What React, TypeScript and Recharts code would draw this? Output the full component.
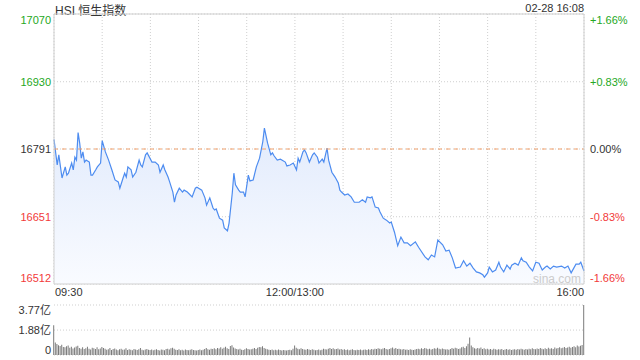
import {
  ComposedChart,
  Area,
  Bar,
  XAxis,
  YAxis,
  CartesianGrid,
  ReferenceLine,
} from "recharts";

// HSI intraday, 28 Feb (minutes from 09:30, lunch break removed)
const PREV_CLOSE = 16791;

const minutes = [
  0, 2, 3, 5, 7, 8, 9, 11, 12, 13, 14, 15, 16, 17, 18, 19, 20, 22, 23, 24,
  26, 27, 29, 30, 32, 34, 36, 38, 40, 41, 43, 44, 45, 46, 48, 49, 51, 53, 54, 55,
  57, 58, 61, 63, 65, 66, 68, 69, 71, 72, 74, 75, 76, 78, 80, 81, 83, 86, 88, 89,
  92, 94, 95, 97, 99, 100, 101, 103, 105, 106, 108, 109, 111, 112, 113, 115, 116, 118, 119, 121,
  122, 124, 126, 128, 130, 131, 133, 135, 136, 137, 139, 141, 144, 145, 147, 149, 151, 152, 153, 155,
  156, 157, 159, 161, 162, 164, 165, 167, 168, 170, 171, 173, 175, 177, 178, 179, 181, 183, 185, 187,
  190, 192, 194, 195, 197, 198, 200, 202, 203, 205, 207, 209, 210, 212, 214, 216, 218, 220, 222, 225,
  227, 231, 233, 235, 237, 239, 242, 244, 246, 248, 250, 253, 255, 257, 259, 261, 263, 265, 267, 268,
  270, 271, 273, 275, 277, 278, 280, 282, 284, 285, 287, 289, 291, 292, 294, 296, 298, 300, 302, 304,
  306, 307, 309, 311, 313, 316, 318, 320, 322, 325, 327, 328, 330,
];

const prices = [
  16811, 16758, 16779, 16731, 16754, 16737, 16741, 16762, 16748, 16774,
  16768, 16825, 16803, 16772, 16785, 16764, 16768, 16764, 16737, 16737,
  16748, 16754, 16762, 16808, 16785, 16768, 16748, 16727, 16723, 16710,
  16731, 16741, 16733, 16754, 16748, 16733, 16743, 16768, 16758, 16754,
  16779, 16783, 16764, 16764, 16758, 16743, 16758, 16748, 16733, 16723,
  16702, 16681, 16696, 16710, 16702, 16706, 16702, 16692, 16710, 16712,
  16706, 16690, 16675, 16690, 16669, 16665, 16667, 16648, 16644, 16628,
  16622, 16638, 16700, 16741, 16717, 16706, 16702, 16702, 16692, 16737,
  16725, 16727, 16754, 16772, 16806, 16834, 16803, 16779, 16783, 16777,
  16768, 16770, 16764, 16756, 16758, 16762, 16748, 16772, 16764, 16785,
  16789, 16783, 16764, 16779, 16783, 16774, 16762, 16770, 16764, 16793,
  16768, 16743, 16733, 16721, 16706, 16702, 16696, 16698, 16692, 16681,
  16681, 16686, 16681, 16692, 16690, 16692, 16671, 16669, 16661, 16648,
  16644, 16638, 16640, 16619, 16591, 16609, 16597, 16597, 16591, 16599,
  16588, 16568, 16562, 16572, 16568, 16603, 16593, 16580, 16582, 16566,
  16545, 16547, 16560, 16549, 16555, 16545, 16537, 16535, 16531, 16526,
  16535, 16547, 16537, 16541, 16557, 16547, 16537, 16551, 16543, 16551,
  16555, 16551, 16566, 16560, 16557, 16547, 16539, 16557, 16555, 16541,
  16547, 16549, 16543, 16549, 16547, 16549, 16545, 16549, 16535, 16553,
  16553, 16557, 16539,
];

// per-minute volume in 亿, index = minute from 09:30 (last one = closing auction)
const volumes = [
  2.25, 0.95, 0.82, 0.74, 0.68, 0.77, 0.61, 0.58, 0.66, 0.72, 0.55, 0.62, 0.49, 0.57, 0.64, 0.70, 0.52, 0.48, 0.59, 0.45, 0.51, 0.63, 0.47, 0.42, 0.55, 0.50, 0.46, 0.58, 0.44, 0.49,
  0.61, 0.53, 0.47, 0.40, 0.44, 0.52, 0.38, 0.45, 0.49, 0.41, 0.36, 0.43, 0.47, 0.39, 0.42, 0.50, 0.37, 0.44, 0.40, 0.35, 0.46, 0.41, 0.38, 0.43, 0.52, 0.39, 0.36, 0.42, 0.45, 0.40,
  0.38, 0.42, 0.35, 0.40, 0.44, 0.37, 0.33, 0.41, 0.39, 0.36, 0.45, 0.48, 0.42, 0.51, 0.55, 0.47, 0.40, 0.38, 0.43, 0.36, 0.39, 0.34, 0.41, 0.37, 0.35, 0.40, 0.44, 0.38, 0.36, 0.33,
  0.37, 0.41, 0.35, 0.39, 0.46, 0.52, 0.43, 0.40, 0.48, 0.45, 0.50, 0.44, 0.53, 0.49, 0.58, 0.47, 0.55, 0.62, 0.51, 0.46, 0.68, 0.74, 0.57, 0.49, 0.45, 0.42, 0.47, 0.40, 0.38, 0.44,
  0.50, 0.46, 0.41, 0.44, 0.48, 0.52, 0.45, 0.55, 0.61, 0.58, 0.66, 0.53, 0.47, 0.43, 0.40, 0.38, 0.42, 0.36, 0.39, 0.35, 0.41, 0.37, 0.34, 0.38, 0.36, 0.33, 0.37, 0.40, 0.35, 0.48,
  0.72, 0.55, 0.48, 0.44, 0.51, 0.46, 0.42, 0.39, 0.45, 0.41, 0.37, 0.43, 0.40, 0.36, 0.38, 0.42, 0.35, 0.39, 0.47, 0.44, 0.41, 0.48, 0.52, 0.45, 0.50, 0.43, 0.46, 0.49, 0.42, 0.45,
  0.40, 0.43, 0.38, 0.41, 0.36, 0.39, 0.44, 0.37, 0.35, 0.40, 0.38, 0.42, 0.36, 0.39, 0.41, 0.37, 0.43, 0.40, 0.46, 0.42, 0.48, 0.45, 0.51, 0.47, 0.44, 0.49, 0.53, 0.46, 0.42, 0.45,
  0.50, 0.56, 0.48, 0.52, 0.45, 0.47, 0.43, 0.41, 0.46, 0.39, 0.42, 0.38, 0.44, 0.40, 0.37, 0.41, 0.45, 0.48, 0.43, 0.50, 0.46, 0.53, 0.49, 0.44, 0.47, 0.42, 0.45, 0.51, 0.48, 0.55,
  0.47, 0.43, 0.49, 0.45, 0.41, 0.44, 0.40, 0.46, 0.52, 0.48, 0.55, 0.50, 0.45, 0.49, 0.58, 0.62, 0.53, 0.66, 0.85, 1.32, 0.72, 0.58, 0.51, 0.47, 0.53, 0.49, 0.56, 0.46, 0.50, 0.44,
  0.48, 0.42, 0.45, 0.40, 0.47, 0.43, 0.39, 0.44, 0.41, 0.46, 0.38, 0.42, 0.45, 0.40, 0.43, 0.37, 0.41, 0.44, 0.39, 0.46, 0.42, 0.48, 0.44, 0.40, 0.45, 0.41, 0.47, 0.43, 0.50, 0.46,
  0.44, 0.49, 0.45, 0.52, 0.47, 0.43, 0.50, 0.46, 0.54, 0.48, 0.51, 0.45, 0.56, 0.49, 0.53, 0.58, 0.50, 0.55, 0.61, 0.52, 0.57, 0.63, 0.55, 0.60, 0.66, 0.58, 0.71, 0.64, 0.69, 0.75,
  3.77,
];

const priceTicks = [16512, 16651, 16791, 16930, 17070];
const timeTicks = [0, 30, 60, 90, 120, 150, 180, 210, 240, 270, 300, 330];
const timeLabels: Record<number, string> = { 0: "09:30", 150: "12:00/13:00", 330: "16:00" };
const volTicks = [0, 1.88, 3.77];
const volLabels: Record<number, string> = { 0: "0", 1.88: "1.88亿", 3.77: "3.77亿" };

const GREEN = "#24a824";
const RED = "#f23a3a";
const TEXT = "#333";
const BORDER = "#cfcfcf";
const LINE = "#4d8cf0";
const FONT = '"Liberation Sans", Arial, "Noto Sans CJK SC", sans-serif';

const priceData = minutes.map((t, i) => ({ t, p: prices[i] }));
const volData = volumes.map((v, i) => ({ t: i, v }));

function colorFor(v: number) {
  if (v > PREV_CLOSE) return GREEN;
  if (v < PREV_CLOSE) return RED;
  return TEXT;
}

function edgeShift(v: number) {
  if (v === priceTicks[priceTicks.length - 1]) return 6;
  if (v === priceTicks[0]) return -6;
  return 0;
}

function LeftTick({ y, payload }: any) {
  const v = payload.value;
  return (
    <text x={51} y={y + edgeShift(v)} dy="0.35em" textAnchor="end" fill={colorFor(v)} fontSize={11}>
      {v}
    </text>
  );
}

function RightTick({ y, payload }: any) {
  const v = payload.value;
  const pct = ((v - PREV_CLOSE) / PREV_CLOSE) * 100;
  const label = (pct > 0 ? "+" : "") + pct.toFixed(2) + "%";
  return (
    <text x={590} y={y + edgeShift(v)} dy="0.35em" textAnchor="start" fill={colorFor(v)} fontSize={11}>
      {label}
    </text>
  );
}

function TimeTick({ x, payload }: any) {
  const label = timeLabels[payload.value];
  if (!label) return null;
  const anchor = payload.value === 0 ? "start" : payload.value === 330 ? "end" : "middle";
  const dx = payload.value === 0 ? 1 : 0;
  return (
    <text x={x + dx} y={292} dy="0.35em" textAnchor={anchor} fill={TEXT} fontSize={11}>
      {label}
    </text>
  );
}

function VolTick({ y, payload }: any) {
  const v = payload.value;
  const shift = v === 3.77 ? 5 : v === 0 ? -5 : 0;
  return (
    <text x={51} y={y + shift} dy="0.35em" textAnchor="end" fill={TEXT} fontSize={11}>
      {volLabels[v]}
    </text>
  );
}

export default function App() {
  return (
    <div
      style={{
        position: "absolute",
        left: 0,
        top: 0,
        width: 640,
        height: 360,
        background: "#fff",
        fontFamily: FONT,
        overflow: "hidden",
      }}
    >
      <div style={{ position: "absolute", left: 55, top: 1, fontSize: 12, color: TEXT }}>HSI 恒生指数</div>
      <div style={{ position: "absolute", right: 56, top: 2, fontSize: 11, color: TEXT }}>02-28 16:08</div>

      <div style={{ position: "absolute", left: 0, top: 0 }}>
        <ComposedChart width={640} height={300} data={priceData} margin={{ top: 14, right: 0, bottom: 0, left: 0 }}>
          <defs>
            <linearGradient id="fillGrad" x1="0" y1="0" x2="0" y2="1">
              <stop offset="0%" stopColor="#e2ebfc" />
              <stop offset="100%" stopColor="#f9fbff" />
            </linearGradient>
          </defs>
          <CartesianGrid yAxisId="left" stroke={BORDER} strokeDasharray="1 2" />
          <XAxis
            dataKey="t"
            type="number"
            domain={[0, 330]}
            ticks={timeTicks}
            interval={0}
            height={16}
            tickLine={false}
            axisLine={{ stroke: BORDER }}
            tick={<TimeTick />}
          />
          <YAxis
            yAxisId="left"
            type="number"
            domain={[16512, 17070]}
            ticks={priceTicks}
            interval={0}
            width={54}
            tickLine={false}
            axisLine={{ stroke: BORDER }}
            tick={<LeftTick />}
            allowDataOverflow
          />
          <YAxis
            yAxisId="right"
            orientation="right"
            type="number"
            domain={[16512, 17070]}
            ticks={priceTicks}
            interval={0}
            width={56}
            tickLine={false}
            axisLine={{ stroke: BORDER }}
            tick={<RightTick />}
            allowDataOverflow
          />
          <ReferenceLine yAxisId="left" y={17070} stroke={BORDER} />
          <Area
            yAxisId="left"
            type="linear"
            dataKey="p"
            stroke={LINE}
            strokeWidth={1.2}
            fill="url(#fillGrad)"
            fillOpacity={1}
            dot={false}
            activeDot={false}
            isAnimationActive={false}
          />
          <ReferenceLine yAxisId="left" y={PREV_CLOSE} stroke="#f2a06a" strokeDasharray="4 4" />
        </ComposedChart>
      </div>

      <div style={{ position: "absolute", left: 533, top: 272, fontSize: 12, color: "#cccccc" }}>sina.com</div>

      <div style={{ position: "absolute", left: 0, top: 300 }}>
        <ComposedChart width={640} height={60} data={volData} margin={{ top: 5, right: 56, bottom: 5, left: 0 }}>
          <CartesianGrid stroke={BORDER} strokeDasharray="1 2" vertical={false} />
          <XAxis dataKey="t" type="number" domain={[0, 330]} hide />
          <YAxis
            type="number"
            domain={[0, 3.77]}
            ticks={volTicks}
            interval={0}
            width={54}
            tickLine={false}
            axisLine={false}
            tick={<VolTick />}
            allowDataOverflow
          />
          <Bar dataKey="v" fill="#7a7a7a" barSize={1} isAnimationActive={false} />
        </ComposedChart>
      </div>
    </div>
  );
}
